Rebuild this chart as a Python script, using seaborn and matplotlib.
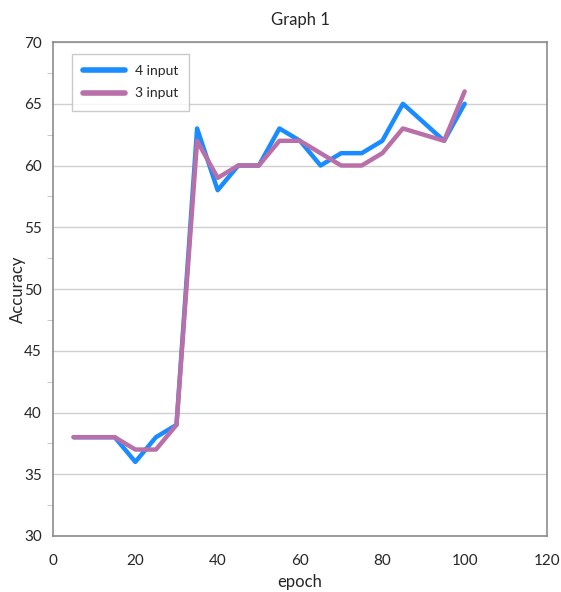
import matplotlib.pyplot as plt
import pandas as pd
import seaborn as sns
from matplotlib.ticker import MultipleLocator

# data
epoch = [5, 10, 15, 20, 25, 30, 35, 40, 45, 50, 55, 60, 65, 70, 75, 80, 85, 95, 100]
acc_4 = [38, 38, 38, 36, 38, 39, 63, 58, 60, 60, 63, 62, 60, 61, 61, 62, 65, 62, 65]
acc_3 = [38, 38, 38, 37, 37, 39, 62, 59, 60, 60, 62, 62, 61, 60, 60, 61, 63, 62, 66]

df = pd.DataFrame({
    "epoch": epoch * 2,
    "Accuracy": acc_4 + acc_3,
    "series": ["4 input"] * len(epoch) + ["3 input"] * len(epoch),
})

sns.set_style("white")
plt.rcParams["font.family"] = ["Lato", "DejaVu Sans"]

fig = plt.figure(figsize=(5.61, 5.92), dpi=100)
ax = fig.add_axes([0.0945, 0.0946, 0.8805, 0.8344])

sns.lineplot(data=df, x="epoch", y="Accuracy", hue="series",
             palette={"4 input": "#1a8cff", "3 input": "#b96fa8"},
             linewidth=3.2, ax=ax, sort=False)

ax.set_xlim(0, 120)
ax.set_ylim(30, 70)
ax.xaxis.set_major_locator(MultipleLocator(20))
ax.yaxis.set_major_locator(MultipleLocator(5))
ax.yaxis.set_minor_locator(MultipleLocator(2.5))
ax.grid(axis="y", which="major", color="#d0d0d0", linewidth=1)
ax.set_axisbelow(True)
for s in ax.spines.values():
    s.set_color("#8c8c8c")
    s.set_linewidth(1.2)
ax.tick_params(axis="x", which="major", direction="out", length=5, color="#bdbdbd",
               labelsize=11, pad=8)
ax.tick_params(axis="y", which="major", length=0, labelsize=11, pad=8)
ax.tick_params(axis="y", which="minor", direction="out", length=4, color="#bdbdbd", left=True)

ax.set_xlabel("epoch", fontsize=12, labelpad=4)
ax.set_ylabel("Accuracy", fontsize=12, labelpad=-1)
ax.set_title("Graph 1", fontsize=12, pad=12)

leg = ax.legend(loc="upper left", bbox_to_anchor=(0.025, 0.99), frameon=True,
                fancybox=False, fontsize=10, handlelength=3.0, handletextpad=0.7,
                borderpad=0.8, labelspacing=0.75)
leg.get_frame().set_edgecolor("#bdbdbd")
leg.get_frame().set_linewidth(1)
for line in leg.get_lines():
    line.set_linewidth(4)

fig.savefig("out.png", dpi=100)
